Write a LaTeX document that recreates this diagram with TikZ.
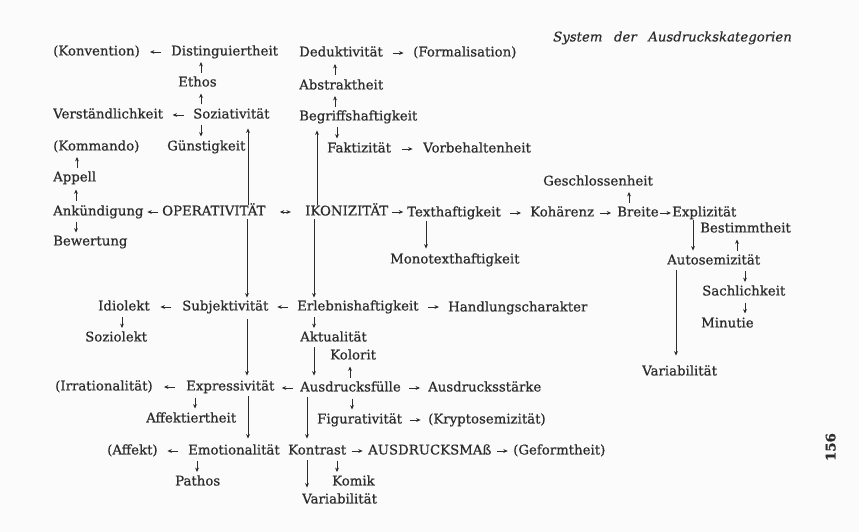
\documentclass[tikz,border=0pt]{standalone}
\usepackage{fontspec}
\setmainfont[FakeBold=0.7]{DejaVu Serif}
\newfontfamily\titlefont[FakeBold=0.5]{DejaVu Serif}
\usetikzlibrary{calc,arrows.meta}
\definecolor{ink}{HTML}{2C2C2C}
\definecolor{paper}{HTML}{FBFBFB}
\begin{document}
\begin{tikzpicture}[x=1pt,y=-1pt,
  >={Stealth[length=4.4pt,width=3.8pt]},
  lbl/.style={anchor=west, inner sep=0pt, text height=9.7pt, text depth=2.8pt,
    font=\fontsize{13.3}{16}\selectfont, text=ink},
  sarr/.style={draw=ink, line width=0.9pt, ->},
  darr/.style={draw=ink, line width=0.9pt, <->},
  larr/.style={draw=ink, line width=0.7pt, ->},
  hto/.style={to path={let \p1=(\tikztostart), \p2=(\tikztotarget), \n1={sign(\x2-\x1)} in
      ({(\x1+\x2)/2-5.5pt*(\n1)},\y1) -- ({(\x1+\x2)/2+5.5pt*(\n1)},\y1)}},
  vto/.style={to path={let \p1=(\tikztostart), \p2=(\tikztotarget), \n1={sign(\y2-\y1)} in
      (#1pt,{(\y1+\y2)/2-5.5pt*(\n1)}) -- (#1pt,{(\y1+\y2)/2+5.5pt*(\n1)})}},
  xto/.style={to path={let \p1=(\tikztostart), \p2=(\tikztotarget) in
      (#1pt,\y1) -- (#1pt,\y2)}}
]
\useasboundingbox[fill=paper] (0,0) rectangle (859,532);

% ---- nodes ----
\node[lbl] (konv) at (53,52) {(Konvention)};
\node[lbl] (dist) at (171,52) {Distinguiertheit};
\node[lbl] (ded) at (299,53) {Deduktivität};
\node[lbl] (formal) at (413,53) {(Formalisation)};
\node[lbl, font=\fontsize{13.3}{16}\selectfont\titlefont\itshape] (title) at (553,38) {System\hspace{0.55em} der\hspace{0.55em} Ausdruckskategorien};
\node[lbl] (ethos) at (178,83) {Ethos};
\node[lbl] (abs) at (299,86) {Abstraktheit};
\node[lbl] (verst) at (53,115) {Verständlichkeit};
\node[lbl] (soz) at (193,115) {Soziativität};
\node[lbl] (begr) at (299,117) {Begriffshaftigkeit};
\node[lbl] (komm) at (53,147) {(Kommando)};
\node[lbl] (guen) at (167,147) {Günstigkeit};
\node[lbl] (fakt) at (327,149) {Faktizität};
\node[lbl] (vorb) at (423,149) {Vorbehaltenheit};
\node[lbl] (appell) at (53,178) {Appell};
\node[lbl] (geschl) at (543,182) {Geschlossenheit};
\node[lbl] (ank) at (53,212) {Ankündigung};
\node[lbl] (op) at (162,212) {OPERATIVITÄT};
\node[lbl] (ik) at (305,212) {IKONIZITÄT};
\node[lbl] (texth) at (407,213) {Texthaftigkeit};
\node[lbl] (koh) at (530,213) {Kohärenz};
\node[lbl] (breite) at (617,213) {Breite};
\node[lbl] (expl) at (672,213) {Explizität};
\node[lbl] (bestimmt) at (700,229) {Bestimmtheit};
\node[lbl] (bew) at (53,242) {Bewertung};
\node[lbl] (mono) at (390,260) {Monotexthaftigkeit};
\node[lbl] (autos) at (667,261) {Autosemizität};
\node[lbl] (sachl) at (702,292) {Sachlichkeit};
\node[lbl] (idio) at (98,307) {Idiolekt};
\node[lbl] (subj) at (182,307) {Subjektivität};
\node[lbl] (erl) at (297,307) {Erlebnishaftigkeit};
\node[lbl] (handl) at (448,308) {Handlungscharakter};
\node[lbl] (minutie) at (701,324) {Minutie};
\node[lbl] (sozio) at (85,338) {Soziolekt};
\node[lbl] (akt) at (300,338) {Aktualität};
\node[lbl] (kolorit) at (330,356) {Kolorit};
\node[lbl] (variabR) at (642,372) {Variabilität};
\node[lbl] (irrat) at (55,387) {(Irrationalität)};
\node[lbl] (expr) at (186,387) {Expressivität};
\node[lbl] (ausdrf) at (300,388) {Ausdrucksfülle};
\node[lbl] (staerke) at (428,388) {Ausdrucksstärke};
\node[lbl] (affektiert) at (146,419) {Affektiertheit};
\node[lbl] (figur) at (317,420) {Figurativität};
\node[lbl] (krypto) at (428,420) {(Kryptosemizität)};
\node[lbl] (affekt) at (107,451) {(Affekt)};
\node[lbl] (emot) at (188,451) {Emotionalität};
\node[lbl] (kontrast) at (288,451) {Kontrast};
\node[lbl] (mass) at (368,451) {AUSDRUCKSMAß};
\node[lbl] (geform) at (513,451) {(Geformtheit)};
\node[lbl] (pathos) at (175,482) {Pathos};
\node[lbl] (komik) at (332,482) {Komik};
\node[lbl] (variabB) at (302,500) {Variabilität};
\node[lbl, anchor=center, rotate=90, font=\fontsize{13.3}{16}\selectfont\bfseries] (page) at (832,447) {156};

% ---- short horizontal arrows ----
\draw[sarr] (dist.west) to[hto] (konv.east);
\draw[sarr] (soz.west) to[hto] (verst.east);
\draw[sarr] (ded.east) to[hto] (formal.west);
\draw[sarr] (fakt.east) to[hto] (vorb.west);
\draw[sarr] (op.west) to[hto] (ank.east);
\draw[darr] (op.east) to[hto] (ik.west);
\draw[sarr] (ik.east) to[hto] (texth.west);
\draw[sarr] (texth.east) to[hto] (koh.west);
\draw[sarr] (koh.east) to[hto] (breite.west);
\draw[sarr] (breite.east) to[hto] (expl.west);
\draw[sarr] (subj.west) to[hto] (idio.east);
\draw[sarr] (erl.west) to[hto] (subj.east);
\draw[sarr] (erl.east) to[hto] (handl.west);
\draw[sarr] (expr.west) to[hto] (irrat.east);
\draw[sarr] (ausdrf.west) to[hto] (expr.east);
\draw[sarr] (ausdrf.east) to[hto] (staerke.west);
\draw[sarr] (figur.east) to[hto] (krypto.west);
\draw[sarr] (emot.west) to[hto] (affekt.east);
\draw[sarr] (kontrast.east) to[hto] (mass.west);
\draw[sarr] (mass.east) to[hto] (geform.west);

% ---- short vertical arrows ----
\draw[sarr] (ethos.north) to[vto=201] (dist.south);
\draw[sarr] (soz.north) to[vto=201] (ethos.south);
\draw[sarr] (soz.south) to[vto=201] (guen.north);
\draw[sarr] (appell.north) to[vto=77] (komm.south);
\draw[sarr] (ank.north) to[vto=76] (appell.south);
\draw[sarr] (ank.south) to[vto=76] (bew.north);
\draw[sarr] (abs.north) to[vto=335] (ded.south);
\draw[sarr] (begr.north) to[vto=335] (abs.south);
\draw[sarr] (begr.south) to[vto=337] (fakt.north);
\draw[sarr] (idio.south) to[vto=122] (sozio.north);
\draw[sarr] (erl.south) to[vto=314] (akt.north);
\draw[sarr] (ausdrf.north) to[vto=350] (kolorit.south);
\draw[sarr] (ausdrf.south) to[vto=352] (figur.north);
\draw[sarr] (expr.south) to[vto=195] (affektiert.north);
\draw[sarr] (emot.south) to[vto=197] (pathos.north);
\draw[sarr] (kontrast.south) to[vto=337] (komik.north);
\draw[sarr] (breite.north) to[vto=629] (geschl.south);
\draw[sarr] (autos.north) to[vto=737] (bestimmt.south);
\draw[sarr] (autos.south) to[vto=745] (sachl.north);
\draw[sarr] (sachl.south) to[vto=745] (minutie.north);

% ---- long vertical connectors ----
\draw[larr, shorten <=1pt, shorten >=7pt] (op.north) to[xto=248] (soz.south);
\draw[larr, shorten <=1pt, shorten >=7pt] (ik.north) to[xto=317] (begr.south);
\draw[larr, shorten <=1pt, shorten >=3pt] (op.south) to[xto=247] (subj.north);
\draw[larr, shorten <=1pt, shorten >=3pt] (ik.south) to[xto=314] (erl.north);
\draw[larr, shorten <=2pt, shorten >=5pt] (texth.south) to[xto=426] (mono.north);
\draw[larr, shorten <=1pt, shorten >=4pt] (expl.south) to[xto=693] (autos.north);
\draw[larr, shorten <=3pt, shorten >=10pt] (autos.south) to[xto=676] (variabR.north);
\draw[larr, shorten <=6pt, shorten >=5pt] (subj.south) to[xto=247] (expr.north);
\draw[larr, shorten <=3pt, shorten >=6pt] (akt.south) to[xto=314] (ausdrf.north);
\draw[larr, shorten <=3pt, shorten >=6pt] (expr.south) to[xto=248] (emot.north);
\draw[larr, shorten <=3pt, shorten >=6pt] (ausdrf.south) to[xto=307] (kontrast.north);
\draw[larr, shorten <=3pt, shorten >=6pt] (kontrast.south) to[xto=307] (variabB.north);
\end{tikzpicture}
\end{document}
